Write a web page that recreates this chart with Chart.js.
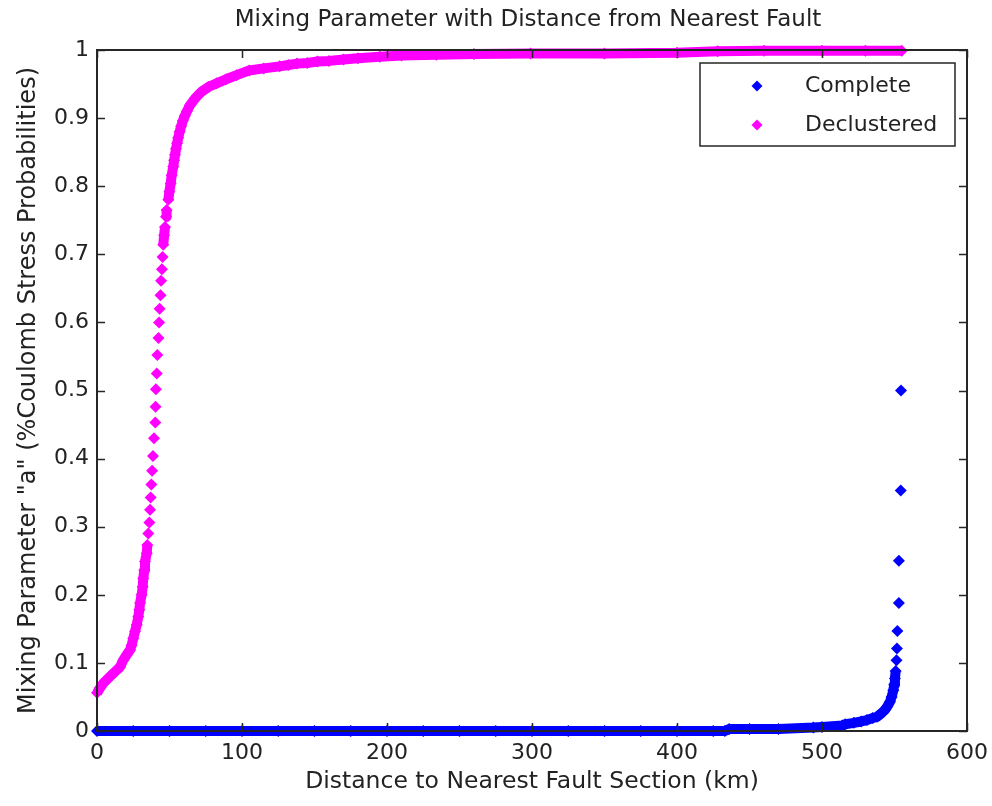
<!DOCTYPE html>
<html>
<head>
<meta charset="utf-8">
<title>Mixing Parameter with Distance from Nearest Fault</title>
<script src="https://cdn.jsdelivr.net/npm/chart.js@4"></script>
<style>
    html, body { margin: 0; padding: 0; background: #fff; }
    #wrap { width: 992px; height: 806px; }
</style>
</head>
<body>
<div id="wrap"><canvas id="mixChart"></canvas></div>
<script>
// distance to nearest fault section (km) and mixing parameter
const completeX = [0, 25, 50, 75, 100, 125, 150, 175, 200, 225, 250, 275, 300, 325, 350, 375, 400, 425, 433,
    436, 450, 470, 494, 500, 514, 516, 522, 527, 531, 535, 538, 541, 543.4, 545, 546.9, 548, 549.2, 549.8,
    550.3, 550.8, 551.4, 551.7, 552, 553, 553, 554.3, 554.5];
const completeY = [0, 0, 0, 0, 0, 0, 0, 0, 0, 0, 0, 0, 0, 0, 0, 0, 0, 0, 0,
    0.003, 0.003, 0.003, 0.005, 0.006, 0.008, 0.010, 0.012, 0.014, 0.016, 0.019, 0.021, 0.026, 0.031, 0.036, 0.043, 0.050, 0.060, 0.068,
    0.077, 0.088, 0.104, 0.121, 0.147, 0.188, 0.250, 0.353, 0.500];

const declusteredX = [0, 2.0, 4.3, 9.0, 12.4, 15.9, 18.1, 20.5, 22.8, 23.9, 25.0, 26.2, 27.4, 28.5, 29.2, 29.7, 30.8,
    31.5, 31.9, 32.6, 33.1, 34.3, 34.7, 35.4, 36.1, 36.6, 37.0, 37.5, 38.0, 38.6, 39.3, 40.2, 40.4, 40.6,
    41.2, 41.6, 42.4, 42.8, 43.2, 43.8, 44.2, 44.8, 45.2, 45.7, 46.3, 46.9, 47.6, 48.0, 49.2, 49.9, 50.8,
    51.5, 52.6, 53.2, 53.8, 54.5, 55.2, 56, 57, 58, 59.2, 60.5, 62, 64.1, 68, 72.2, 77, 82.5, 89, 96.3, 105, 115, 126, 132, 138, 145, 152,
    160, 170, 180, 195, 210, 234, 260, 299, 350, 400, 428, 460, 500, 530, 555];
const declusteredY = [0.056, 0.063, 0.070, 0.080, 0.087, 0.094, 0.104, 0.112, 0.119, 0.126, 0.136, 0.146, 0.156, 0.168, 0.178, 0.188, 0.200,
    0.212, 0.224, 0.236, 0.249, 0.261, 0.273, 0.290, 0.306, 0.325, 0.343, 0.362, 0.382, 0.404, 0.430, 0.453, 0.476, 0.502,
    0.525, 0.552, 0.577, 0.600, 0.620, 0.640, 0.661, 0.678, 0.696, 0.714, 0.728, 0.740, 0.755, 0.765, 0.780, 0.792, 0.804,
    0.816, 0.829, 0.838, 0.846, 0.855, 0.863, 0.871, 0.880, 0.888, 0.896, 0.903, 0.910, 0.919, 0.930, 0.939, 0.946, 0.951, 0.957, 0.963, 0.970, 0.973, 0.976, 0.978, 0.980, 0.981, 0.983,
    0.984, 0.986, 0.988, 0.990, 0.992, 0.993, 0.994, 0.995, 0.995, 0.996, 0.998, 0.999, 0.999, 0.999, 0.999];

const seriesNames = ['Complete', 'Declustered'];
const seriesColors = ['#0000ff', '#ff00ff'];

const xTicks = [0, 100, 200, 300, 400, 500, 600];
const yTicks = [0, 0.1, 0.2, 0.3, 0.4, 0.5, 0.6, 0.7, 0.8, 0.9, 1];

const chartTitle = 'Mixing Parameter with Distance from Nearest Fault';
const textColor = '#222';
Chart.defaults.font.family = '"DejaVu Sans", sans-serif';

function toPoints(xs, ys) {
    return xs.map((x, i) => ({ x: x, y: ys[i] }));
}

function makeDataset(label, color, points) {
    return {
        label: label,
        data: points,
        showLine: true,
        borderColor: color,
        borderWidth: 10,
        borderJoinStyle: 'round',
        pointStyle: 'rectRot',
        pointRadius: 6,
        pointBorderWidth: 0,
        pointBackgroundColor: color,
        clip: false,
        // the real data is dense where the curve is flat; only join markers that would overlap anyway
        segment: {
            borderColor: ctx => Math.abs(ctx.p1.y - ctx.p0.y) > 10 ? 'rgba(0,0,0,0)' : color
        }
    };
}

function diamond(ctx, x, y, r) {
    ctx.beginPath();
    ctx.moveTo(x, y - r);
    ctx.lineTo(x + r, y);
    ctx.lineTo(x, y + r);
    ctx.lineTo(x - r, y);
    ctx.closePath();
    ctx.fill();
}

// MATLAB style box, inward ticks, title over the axes and legend inside them
const boxPlugin = {
    id: 'matlabBox',
    afterDatasetsDraw(chart) {
        const { ctx, chartArea: a, scales } = chart;
        ctx.save();
        ctx.strokeStyle = '#262626';
        ctx.lineWidth = 1.5;
        const tl = 8;
        ctx.beginPath();
        xTicks.forEach(v => {
            const px = Math.round(scales.x.getPixelForValue(v)) + 0.5;
            ctx.moveTo(px, a.bottom); ctx.lineTo(px, a.bottom - tl);
            ctx.moveTo(px, a.top); ctx.lineTo(px, a.top + tl);
        });
        yTicks.forEach(v => {
            const py = Math.round(scales.y.getPixelForValue(v)) + 0.5;
            ctx.moveTo(a.left, py); ctx.lineTo(a.left + tl, py);
            ctx.moveTo(a.right, py); ctx.lineTo(a.right - tl, py);
        });
        ctx.stroke();
        ctx.lineWidth = 2;
        ctx.strokeRect(a.left, a.top, a.right - a.left, a.bottom - a.top);

        // title, centred on the axes
        ctx.fillStyle = textColor;
        ctx.font = '23px "DejaVu Sans"';
        ctx.textAlign = 'center';
        ctx.textBaseline = 'middle';
        ctx.fillText(chartTitle, (a.left + a.right) / 2 - 4, 20);

        // legend
        const lw = 255, lh = 83;
        const lx = a.right - 12 - lw, ly = a.top + 13;
        ctx.fillStyle = '#fff';
        ctx.fillRect(lx, ly, lw, lh);
        ctx.lineWidth = 1.5;
        ctx.strokeRect(lx, ly, lw, lh);
        ctx.font = '22px "DejaVu Sans"';
        ctx.textAlign = 'left';
        chart.data.datasets.forEach((ds, i) => {
            const yy = ly + 23 + i * 39;
            ctx.fillStyle = seriesColors[i];
            diamond(ctx, lx + 57, yy, 5.5);
            ctx.fillStyle = textColor;
            ctx.fillText(ds.label, lx + 105, yy);
        });
        ctx.restore();
    }
};

const mixChart = new Chart(document.getElementById('mixChart'), {
    type: 'scatter',
    data: {
        datasets: [
            makeDataset(seriesNames[0], seriesColors[0], toPoints(completeX, completeY)),
            makeDataset(seriesNames[1], seriesColors[1], toPoints(declusteredX, declusteredY))
        ]
    },
    options: {
        responsive: true,
        maintainAspectRatio: false,
        animation: false,
        events: [],
        layout: { padding: { left: 0, right: 25, top: 50, bottom: 0 } },
        plugins: {
            legend: { display: false },
            tooltip: { enabled: false },
            title: { display: false }
        },
        scales: {
            x: {
                type: 'linear',
                min: 0,
                max: 600,
                afterBuildTicks: scale => { scale.ticks = xTicks.map(v => ({ value: v })); },
                ticks: { color: textColor, font: { size: 22 }, padding: 9, maxRotation: 0 },
                grid: { display: false, drawTicks: false },
                border: { display: false },
                title: {
                    display: true,
                    text: 'Distance to Nearest Fault Section (km)',
                    color: textColor,
                    font: { size: 23.5 },
                    padding: { top: 4, bottom: 10 }
                },
                afterFit: scale => {
                    scale.height = 75;
                    scale.paddingLeft = 0;
                    scale.paddingRight = 0;
                }
            },
            y: {
                type: 'linear',
                min: 0,
                max: 1,
                afterBuildTicks: scale => { scale.ticks = yTicks.map(v => ({ value: v })); },
                ticks: {
                    color: textColor,
                    font: { size: 22 },
                    padding: 8,
                    callback: v => String(parseFloat(v.toFixed(1)))
                },
                grid: { display: false, drawTicks: false },
                border: { display: false },
                title: {
                    display: true,
                    text: 'Mixing Parameter "a" (%Coulomb Stress Probabilities)',
                    color: textColor,
                    font: { size: 24 },
                    padding: { top: 14, bottom: 4 }
                },
                afterFit: scale => {
                    scale.width = 97;
                    scale.paddingTop = 0;
                    scale.paddingBottom = 0;
                }
            }
        }
    },
    plugins: [boxPlugin]
});
</script>
</body>
</html>
